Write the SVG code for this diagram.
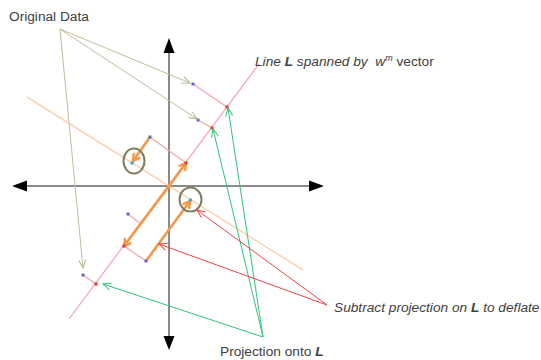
<svg xmlns="http://www.w3.org/2000/svg" width="541" height="360" viewBox="0 0 541 360">
<style>
.lbl{font-family:"Liberation Sans",Arial,sans-serif;font-size:13.7px;fill:#404040}
.it{font-style:italic}
.b{font-weight:bold}
.axis{stroke:#8a8a8a;stroke-width:2;fill:none}
.head{fill:#000}
.lineL{stroke:#f4a3ab;stroke-width:1.2;fill:none}
.perp{stroke:#f4a3ab;stroke-width:1.2;fill:none}
.defl{stroke:#fbd3b3;stroke-width:1.5;fill:none}
.vec{stroke:#f79646;stroke-width:2.6;fill:none;marker-end:url(#mo)}
.ring{stroke:#7f7f5f;stroke-width:2;fill:none}
.cTan{stroke:#c4bd97;stroke-width:1;fill:none;marker-end:url(#mt)}
.cGreen{stroke:#33c27a;stroke-width:1;fill:none;marker-end:url(#mg)}
.cRed{stroke:#ee4444;stroke-width:1;fill:none;marker-end:url(#mr)}
.blue{fill:#6666cc}
.red{fill:#e83838}
.cyan{fill:#33aadd}
</style>
<defs>
<marker id="mo" markerWidth="10" markerHeight="10" refX="8" refY="5" orient="auto" markerUnits="userSpaceOnUse"><path d="M1,1 L8,5 L1,9" fill="none" stroke="#f79646" stroke-width="2.4"/></marker>
<marker id="mt" markerWidth="10" markerHeight="10" refX="9" refY="5" orient="auto" markerUnits="userSpaceOnUse"><path d="M1,1.5 L9,5 L1,8.5" fill="none" stroke="#b8b08a" stroke-width="1"/></marker>
<marker id="mg" markerWidth="10" markerHeight="10" refX="9" refY="5" orient="auto" markerUnits="userSpaceOnUse"><path d="M1,1.5 L9,5 L1,8.5" fill="none" stroke="#33c27a" stroke-width="1"/></marker>
<marker id="mr" markerWidth="10" markerHeight="10" refX="9" refY="5" orient="auto" markerUnits="userSpaceOnUse"><path d="M1,1.5 L9,5 L1,8.5" fill="none" stroke="#ee4444" stroke-width="1"/></marker>
</defs>

<g id="axes">
<line class="axis" x1="26" y1="186" x2="310" y2="186"/>
<line class="axis" x1="169" y1="52" x2="169" y2="338"/>
<polygon class="head" points="12,186 27,180.5 27,191.5"/>
<polygon class="head" points="324,186 309,180.5 309,191.5"/>
<polygon class="head" points="169,38 163.5,53 174.5,53"/>
<polygon class="head" points="169,350 163.5,336 174.5,336"/>
</g>

<g id="line-L">
<line class="lineL" x1="69" y1="319" x2="259" y2="64"/>
</g>

<g id="deflation-line">
<line class="defl" x1="27" y1="97" x2="303" y2="270"/>
</g>

<g id="projection-segments">
<line class="perp" x1="193" y1="84" x2="227" y2="107"/>
<line class="perp" x1="198" y1="120" x2="212" y2="128"/>
<line class="perp" x1="150" y1="137" x2="186" y2="163"/>
<line class="perp" x1="128" y1="214" x2="141" y2="224"/>
<line class="perp" x1="146" y1="261" x2="124" y2="246"/>
<line class="perp" x1="83" y1="275" x2="96" y2="284"/>
</g>

<g id="vectors">
<line class="vec" x1="169" y1="186" x2="186" y2="163"/>
<line class="vec" x1="169" y1="186" x2="124" y2="246"/>
<line class="vec" x1="150" y1="137" x2="133" y2="161"/>
<line class="vec" x1="146" y1="261" x2="190" y2="201"/>
</g>

<g id="points">
<rect class="blue" x="191.5" y="82.5" width="3" height="3"/>
<rect class="blue" x="196.5" y="118.5" width="3" height="3"/>
<rect class="blue" x="148.5" y="135.5" width="3" height="3"/>
<rect class="blue" x="126.5" y="212.5" width="3" height="3"/>
<rect class="blue" x="144.5" y="259.5" width="3" height="3"/>
<rect class="blue" x="81.5" y="273.5" width="3" height="3"/>
<rect class="red" x="225.5" y="105.5" width="3" height="3"/>
<rect class="red" x="210.5" y="126.5" width="3" height="3"/>
<rect class="red" x="184.5" y="161.5" width="3" height="3"/>
<rect class="red" x="122.5" y="244.5" width="3" height="3"/>
<rect class="red" x="94.5" y="282.5" width="3" height="3"/>
<rect class="cyan" x="130.5" y="161.5" width="3" height="3"/>
<rect class="cyan" x="189" y="198.5" width="3" height="3"/>
</g>

<g id="circles">
<ellipse class="ring" cx="134" cy="161" rx="10.5" ry="12.5"/>
<ellipse class="ring" cx="190.5" cy="199.5" rx="11" ry="12"/>
</g>

<g id="connectors">
<line class="cTan" x1="60" y1="29" x2="190" y2="83"/>
<line class="cTan" x1="60" y1="29" x2="197" y2="119"/>
<line class="cTan" x1="60" y1="29" x2="83" y2="268"/>
<line class="cGreen" x1="263" y1="337" x2="103" y2="284"/>
<line class="cGreen" x1="263" y1="337" x2="213" y2="129"/>
<line class="cGreen" x1="263" y1="337" x2="228" y2="108"/>
<line class="cRed" x1="327" y1="305" x2="159" y2="244"/>
<line class="cRed" x1="327" y1="305" x2="197" y2="210"/>
</g>

<g id="label-original">
<text class="lbl" x="9" y="21">Original Data</text>
</g>
<g id="label-lineL">
<text class="lbl" x="255" y="66"><tspan class="it">Line </tspan><tspan class="it b">L</tspan><tspan class="it"> spanned by &#160;w</tspan><tspan class="it" font-size="9" dy="-5">m</tspan><tspan dy="5"> vector</tspan></text>
</g>
<g id="label-subtract">
<text class="lbl it" x="334" y="312">Subtract projection on <tspan class="b">L</tspan> to deflate</text>
</g>
<g id="label-projection">
<text class="lbl" x="220" y="356">Projection onto <tspan class="it b">L</tspan></text>
</g>
</svg>
